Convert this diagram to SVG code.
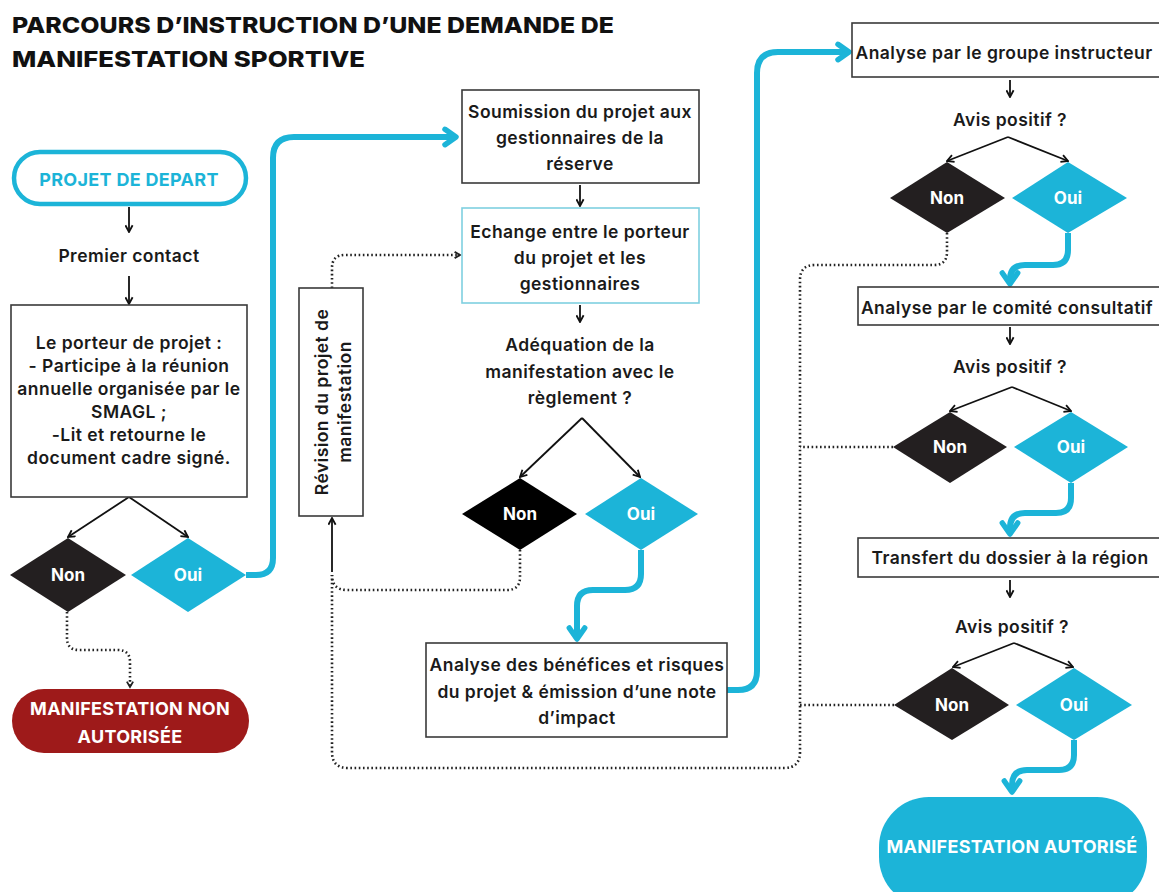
<svg xmlns="http://www.w3.org/2000/svg" width="1159" height="892" viewBox="0 0 1159 892">
<defs>
<style>
.t{font-family:Inter,"Liberation Sans",Arial,sans-serif;font-weight:600;font-size:17.5px;letter-spacing:0.45px;fill:#1a1a1a;text-anchor:middle}
.title{font-family:Inter,"Liberation Sans",Arial,sans-serif;font-weight:800;font-size:22px;fill:#111}
.dt{font-family:Inter,"Liberation Sans",Arial,sans-serif;font-weight:700;font-size:17px;fill:#fff;text-anchor:middle}
.pt{font-family:Inter,"Liberation Sans",Arial,sans-serif;font-weight:700;font-size:18px;letter-spacing:0.3px;text-anchor:middle}
.box{fill:#fff;stroke:#3a3a3a;stroke-width:1.6}
.cy{fill:none;stroke:#1cb4d8;stroke-width:6;stroke-linejoin:round}
.bl{fill:none;stroke:#111;stroke-width:1.8}
.dot{fill:none;stroke:#222;stroke-width:2.6;stroke-dasharray:1.6 2.6}
.dn{fill:#231f20}
.dn0{fill:#000}
.dy{fill:#1cb4d8}
</style>
<marker id="ab" viewBox="0 0 10 10" refX="9" refY="5" markerWidth="9" markerHeight="9" markerUnits="userSpaceOnUse" orient="auto">
<path d="M1.5,1 L9,5 L1.5,9" fill="none" stroke="#111" stroke-width="2"/>
</marker>
<marker id="ad" viewBox="0 0 10 10" refX="8" refY="5" markerWidth="9" markerHeight="9" markerUnits="userSpaceOnUse" orient="auto">
<path d="M2,1.5 L8,5 L2,8.5" fill="none" stroke="#222" stroke-width="2"/>
</marker>
<marker id="ac" viewBox="0 0 20 20" refX="16" refY="10" markerWidth="22" markerHeight="22" markerUnits="userSpaceOnUse" orient="auto">
<path d="M6,3 L16,10 L6,17" fill="none" stroke="#1cb4d8" stroke-width="5" stroke-linecap="round" stroke-linejoin="round"/>
</marker>
</defs>
<rect width="1159" height="892" fill="#fff"/>

<g id="title">
<text class="title" x="12" y="33" textLength="602" lengthAdjust="spacingAndGlyphs">PARCOURS D’INSTRUCTION D’UNE DEMANDE DE</text>
<text class="title" x="12" y="67" textLength="353" lengthAdjust="spacingAndGlyphs">MANIFESTATION SPORTIVE</text>
</g>

<g id="connectors">
<path class="cy" d="M246,575 H256 Q273,575 273,558 V158 Q273,137 294,137 H456" marker-end="url(#ac)"/>
<path class="cy" d="M727,690 H738 Q757,690 757,671 V73 Q757,52 778,52 H849" marker-end="url(#ac)"/>
<path class="cy" d="M641,550 V574 Q641,590 625,590 H593 Q577,590 577,606 V639" marker-end="url(#ac)"/>
<path class="cy" d="M1068,233 V250 Q1068,265 1053,265 H1025 Q1010,265 1010,280 V284" marker-end="url(#ac)"/>
<path class="cy" d="M1071,483 V498 Q1071,513 1056,513 H1025 Q1010,513 1010,528 V534" marker-end="url(#ac)"/>
<path class="cy" d="M1074,740 V755 Q1074,770 1059,770 H1027 Q1012,770 1012,785 V792" marker-end="url(#ac)"/>

<path class="bl" d="M129,207 V232" marker-end="url(#ab)"/>
<path class="bl" d="M129,276 V304" marker-end="url(#ab)"/>
<path class="bl" d="M129,497 L68,537" marker-end="url(#ab)"/>
<path class="bl" d="M129,497 L188,537" marker-end="url(#ab)"/>
<path class="bl" d="M580,185 V206" marker-end="url(#ab)"/>
<path class="bl" d="M580,305 V322" marker-end="url(#ab)"/>
<path class="bl" d="M582,418 L520,477" marker-end="url(#ab)"/>
<path class="bl" d="M582,418 L640,477" marker-end="url(#ab)"/>
<path class="bl" d="M1010,80 V97" marker-end="url(#ab)"/>
<path class="bl" d="M1008,137 L947,161" marker-end="url(#ab)"/>
<path class="bl" d="M1008,137 L1068,161" marker-end="url(#ab)"/>
<path class="bl" d="M1010,327 V344" marker-end="url(#ab)"/>
<path class="bl" d="M1012,387 L950,411" marker-end="url(#ab)"/>
<path class="bl" d="M1012,387 L1071,411" marker-end="url(#ab)"/>
<path class="bl" d="M1010,580 V597" marker-end="url(#ab)"/>
<path class="bl" d="M1014,643 L953,667" marker-end="url(#ab)"/>
<path class="bl" d="M1014,643 L1073,667" marker-end="url(#ab)"/>
<path class="bl" d="M332,572 V518" marker-end="url(#ab)"/>

<path class="dot" d="M67,612 V638 Q67,650 79,650 H118 Q130,650 130,662 V687" marker-end="url(#ad)"/>
<path class="dot" d="M332,288 V268 Q332,255 345,255 H460" marker-end="url(#ad)"/>
<path class="dot" d="M520,550 V577 Q520,590 507,590 H347 Q332,590 332,575"/>
<path class="dot" d="M947,233 V252 Q947,265 934,265 H815 Q800,265 800,280 V752 Q800,768 784,768 H348 Q332,768 332,752 V575"/>
<path class="dot" d="M893,447 H800"/>
<path class="dot" d="M894,705 H800"/>
</g>

<g id="projet-depart">
<rect x="14" y="152" width="232" height="52" rx="26" fill="#fff" stroke="#1cb4d8" stroke-width="4.5"/>
<text class="pt" x="129" y="186" fill="#1cb4d8">PROJET DE DEPART</text>
</g>
<g id="premier-contact">
<text class="t" x="129" y="262">Premier contact</text>
</g>
<g id="porteur">
<rect class="box" x="11" y="305" width="236" height="192"/>
<text class="t" x="129" y="349">Le porteur de projet :</text>
<text class="t" x="129" y="372">- Participe à la réunion</text>
<text class="t" x="129" y="395">annuelle organisée par le</text>
<text class="t" x="129" y="418">SMAGL ;</text>
<text class="t" x="129" y="441">-Lit et retourne le</text>
<text class="t" x="129" y="464">document cadre signé.</text>
</g>
<g id="non-1"><polygon class="dn" points="10,575 68,538 126,575 68,612"/><text class="dt" x="68" y="581">Non</text></g>
<g id="oui-1"><polygon class="dy" points="131,575 188,538 246,575 188,612"/><text class="dt" x="188" y="581">Oui</text></g>
<g id="non-autorisee">
<rect x="12" y="689" width="237" height="64" rx="32" fill="#9e1a1a"/>
<text class="pt" x="130" y="715" fill="#fff">MANIFESTATION NON</text>
<text class="pt" x="130" y="743" fill="#fff">AUTORISÉE</text>
</g>

<g id="revision">
<rect class="box" x="299" y="288" width="64" height="228"/>
<text class="t" transform="translate(328,402) rotate(-90)">Révision du projet de</text>
<text class="t" transform="translate(351,402) rotate(-90)">manifestation</text>
</g>
<g id="soumission">
<rect class="box" x="462" y="90" width="237" height="93"/>
<text class="t" x="580" y="118">Soumission du projet aux</text>
<text class="t" x="580" y="144">gestionnaires de la</text>
<text class="t" x="580" y="170">réserve</text>
</g>
<g id="echange">
<rect x="462" y="208" width="237" height="95" fill="#fff" stroke="#7fd0e0" stroke-width="1.6"/>
<text class="t" x="580" y="238">Echange entre le porteur</text>
<text class="t" x="580" y="264">du projet et les</text>
<text class="t" x="580" y="290">gestionnaires</text>
</g>
<g id="adequation">
<text class="t" x="580" y="351">Adéquation de la</text>
<text class="t" x="580" y="378">manifestation avec le</text>
<text class="t" x="580" y="404">règlement ?</text>
</g>
<g id="non-2"><polygon class="dn0" points="462,514 520,478 577,514 520,550"/><text class="dt" x="520" y="520">Non</text></g>
<g id="oui-2"><polygon class="dy" points="585,514 641,478 698,514 641,550"/><text class="dt" x="641" y="520">Oui</text></g>
<g id="analyse-benefices">
<rect class="box" x="426" y="643" width="301" height="94"/>
<text class="t" x="577" y="671">Analyse des bénéfices et risques</text>
<text class="t" x="577" y="698">du projet &amp; émission d’une note</text>
<text class="t" x="577" y="724">d’impact</text>
</g>

<g id="groupe-instructeur">
<rect class="box" x="852" y="23" width="310" height="54"/>
<text class="t" x="1004" y="59">Analyse par le groupe instructeur</text>
</g>
<g id="avis-1"><text class="t" x="1010" y="126">Avis positif ?</text></g>
<g id="non-3"><polygon class="dn" points="890,198 947,162 1005,198 947,233"/><text class="dt" x="947" y="204">Non</text></g>
<g id="oui-3"><polygon class="dy" points="1012,198 1068,162 1127,198 1068,233"/><text class="dt" x="1068" y="204">Oui</text></g>
<g id="comite">
<rect class="box" x="858" y="287" width="304" height="38"/>
<text class="t" x="1007" y="314">Analyse par le comité consultatif</text>
</g>
<g id="avis-2"><text class="t" x="1010" y="373">Avis positif ?</text></g>
<g id="non-4"><polygon class="dn" points="893,447 950,412 1007,447 950,483"/><text class="dt" x="950" y="453">Non</text></g>
<g id="oui-4"><polygon class="dy" points="1014,447 1071,412 1128,447 1071,483"/><text class="dt" x="1071" y="453">Oui</text></g>
<g id="transfert">
<rect class="box" x="858" y="538" width="304" height="39"/>
<text class="t" x="1010" y="564">Transfert du dossier à la région</text>
</g>
<g id="avis-3"><text class="t" x="1012" y="633">Avis positif ?</text></g>
<g id="non-5"><polygon class="dn" points="894,705 952,668 1009,705 952,740"/><text class="dt" x="952" y="711">Non</text></g>
<g id="oui-5"><polygon class="dy" points="1016,705 1074,668 1132,705 1074,740"/><text class="dt" x="1074" y="711">Oui</text></g>
<g id="autorise">
<rect x="879" y="797" width="268" height="110" rx="50" fill="#1cb4d8"/>
<text class="pt" x="1012" y="853" fill="#fff">MANIFESTATION AUTORISÉ</text>
</g>
</svg>
